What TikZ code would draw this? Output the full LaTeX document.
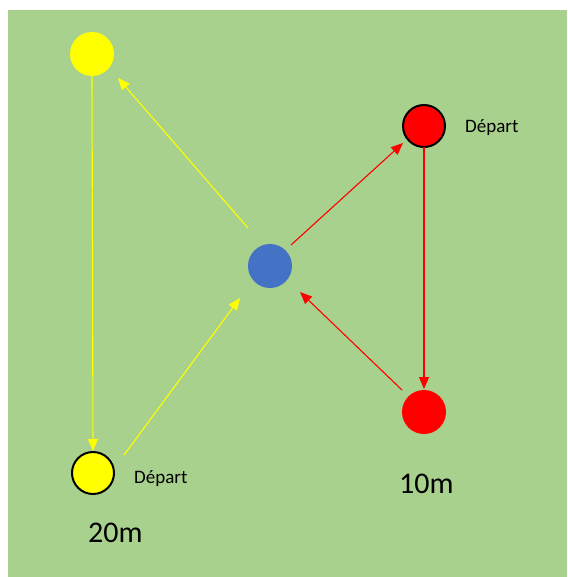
\documentclass[tikz,border=0pt]{standalone}
\usepackage{fontspec}
\setmainfont{Carlito}
\usetikzlibrary{arrows.meta}
\definecolor{bg}{HTML}{A9D18E}
\definecolor{myyellow}{HTML}{FFFF00}
\definecolor{myred}{HTML}{FF0000}
\definecolor{myblue}{HTML}{4472C4}
\tikzset{
  dot/.style={circle, minimum size=44pt, inner sep=0pt, outer sep=0pt},
  bdot/.style={dot, draw=black, line width=2pt, minimum size=42pt},
  yarrow/.style={draw=myyellow, line width=1.1pt, -{Triangle[length=12pt,width=10pt]}},
  rarrow/.style={draw=myred, line width=1.1pt, -{Triangle[length=12pt,width=10pt]}},
  small/.style={font=\fontsize{19}{22}\selectfont, inner sep=0pt, anchor=base west},
  big/.style={font=\fontsize{30}{34}\selectfont, inner sep=0pt, anchor=base west}
}
\begin{document}
\begin{tikzpicture}[x=1pt,y=-1pt]
\useasboundingbox (0,0) rectangle (567,577);
\fill[bg] (8,10) rectangle (567,577);
% circles
\node[dot, fill=myyellow] (yt) at (92,54) {};
\node[bdot, fill=myyellow] (yb) at (93,473) {};
\node[dot, fill=myblue] (bl) at (270,266) {};
\node[bdot, fill=myred] (rt) at (424,126) {};
\node[dot, fill=myred] (rb) at (424,412) {};
% labels
\node[small] (d1) at (465,133) {Départ};
\node[small] (d2) at (134,483) {Départ};
\node[big] (m20) at (88,542) {20m};
\node[big] (m10) at (399,493) {10m};
% arrows
\draw[yarrow] (yt.south) -- ([shift={(0,-1)}]yb.north);
\draw[yarrow] ([shift={(31,-18)}]yb.center) -- ([shift={(-30,32)}]bl.center);
\draw[yarrow] ([shift={(-22,-38)}]bl.center) -- ([shift={(26,24)}]yt.center);
\draw[rarrow] ([shift={(21,-21)}]bl.center) -- ([shift={(-21,17)}]rt.center);
\draw[rarrow] (rt.south) -- ([shift={(0,-1)}]rb.north);
\draw[rarrow] ([shift={(-22,-22)}]rb.center) -- ([shift={(30,26)}]bl.center);
\end{tikzpicture}
\end{document}
